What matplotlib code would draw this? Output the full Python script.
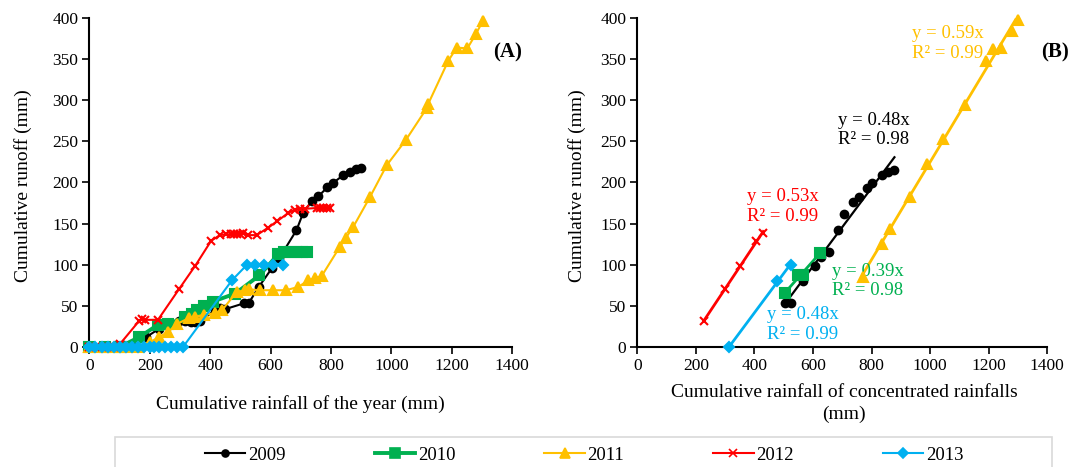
import numpy as np
import matplotlib.pyplot as plt
from matplotlib.patches import Rectangle
from matplotlib.lines import Line2D

plt.rcParams['font.family'] = ['Liberation Serif', 'DejaVu Serif']

# ---- panel A: cumulative rainfall of the year vs cumulative runoff
x09 = [0, 60, 120, 150, 188, 230, 264, 296, 315, 335, 350, 365, 417, 433, 450, 511, 527,
       561, 605, 629, 686, 708, 736, 758, 788, 806, 841, 863, 883, 899]
y09 = [0, 0, 0, 0, 12, 22, 29, 31, 32, 30, 30, 31, 45, 47, 46, 53, 53,
       73, 96, 108, 142, 163, 177, 183, 194, 199, 209, 213, 216, 217]

x10 = [0, 50, 100, 165, 227, 260, 317, 340, 356, 380, 408, 483, 563, 626, 645, 665, 685, 705, 720]
y10 = [0, 0, 0, 12, 27, 28, 36, 40, 45, 50, 55, 65, 87, 113, 116, 116, 116, 116, 116]

x11 = [0, 40, 80, 120, 160, 202, 230, 260, 290, 329, 350, 380, 417, 440, 488, 516, 530,
       565, 607, 651, 692, 725, 747, 769, 830, 850, 874, 929, 985, 1049, 1117, 1123,
       1189, 1217, 1252, 1281, 1303]
y11 = [0, 0, 0, 0, 0, 6, 12, 18, 28, 35, 37, 39, 41, 45, 67, 69, 70,
       69, 69, 69, 73, 81, 84, 86, 122, 133, 146, 182, 221, 252, 290, 296,
       348, 364, 363, 381, 396]

x12 = [0, 40, 80, 102, 163, 174, 185, 227, 298, 351, 403, 432, 453, 470, 480, 490, 500,
       510, 526, 554, 592, 622, 659, 681, 698, 715, 753, 764, 775, 786, 797]
y12 = [0, 0, 0, 4, 31, 34, 33, 33, 71, 99, 129, 136, 137, 137, 137, 137, 137,
       138, 136, 136, 145, 153, 163, 167, 168, 168, 169, 169, 169, 169, 169]

x13 = [0, 20, 40, 60, 80, 100, 120, 140, 160, 180, 200, 215, 230, 250, 270, 290, 310,
       472, 522, 549, 577, 609, 640]
y13 = [0, 0, 0, 0, 0, 0, 0, 0, 0, 0, 0, 0, 0, 0, 0, 0, 0,
       81, 100, 100, 100, 100, 100]

# ---- panel B: concentrated rainfalls
bx09 = [506, 524, 567, 606, 627, 655, 684, 706, 737, 758, 786, 803, 837, 857, 878]
by09 = [54, 54, 80, 98, 110, 115, 142, 162, 176, 182, 193, 199, 209, 213, 215]
bx10 = [505, 550, 565, 623]
by10 = [66, 87, 88, 114]
bx11 = [770, 834, 862, 930, 988, 1044, 1118, 1192, 1215, 1243, 1278, 1300]
by11 = [85, 125, 143, 182, 222, 253, 294, 348, 362, 363, 384, 397]
bx12 = [228, 299, 350, 404, 430]
by12 = [32, 70, 98, 129, 138]
bx13 = [314, 476, 525]
by13 = [0, 80, 100]

years = ['2009', '2010', '2011', '2012', '2013']
eq_text = ['y = 0.48x\nR² = 0.98', 'y = 0.39x\nR² = 0.98', 'y = 0.59x\nR² = 0.99',
           'y = 0.53x\nR² = 0.99', 'y = 0.48x\nR² = 0.99']
eq_pos = [(684, 264), (666, 80), (937, 369), (374, 171), (442, 27)]

colors = ['#000000', '#00B050', '#FFC000', '#FF0000', '#00B0F0']
markers = ['o', 's', '^', 'x', 'D']
msizes = [5.5, 7.5, 7, 6, 5.5]
lws = [1.5, 2.8, 1.5, 1.5, 1.5]

fig = plt.figure(figsize=(10.7, 4.67), dpi=100)
axA = fig.add_axes([0.0836, 0.257, 0.3949, 0.7045])
axB = fig.add_axes([0.5956, 0.257, 0.3832, 0.7045])

seriesA = [(x09, y09), (x10, y10), (x11, y11), (x12, y12), (x13, y13)]
seriesB = [(bx09, by09), (bx10, by10), (bx11, by11), (bx12, by12), (bx13, by13)]

for i in range(5):
    xs, ys = seriesA[i]
    axA.plot(xs, ys, color=colors[i], marker=markers[i], ms=msizes[i], lw=lws[i],
             mew=1.5, clip_on=False, zorder=3)

for i in range(5):
    xs, ys = seriesB[i]
    xs = np.array(xs)
    ys = np.array(ys)
    # linear trendline over the data range
    k, b = np.polyfit(xs, ys, 1)
    xx = np.array([xs.min(), xs.max()])
    axB.plot(xx, k * xx + b, color=colors[i], lw=2 if i != 0 else 1.6, zorder=2)
    axB.plot(xs, ys, ls='none', color=colors[i], marker=markers[i], ms=msizes[i],
             mew=1.5, clip_on=False, zorder=3)
    axB.text(eq_pos[i][0], eq_pos[i][1], eq_text[i], color=colors[i], fontsize=13.5,
             ha='left', va='center', linespacing=1.2)

for ax in (axA, axB):
    ax.set_xlim(0, 1400)
    ax.set_ylim(0, 400)
    ax.set_xticks(range(0, 1401, 200))
    ax.set_yticks(range(0, 401, 50))
    for s in ('top', 'right'):
        ax.spines[s].set_visible(False)
    for s in ('left', 'bottom'):
        ax.spines[s].set_linewidth(1.5)
    ax.tick_params(direction='out', length=5, width=1.2, labelsize=12.5, pad=3)
    ax.set_ylabel('Cumulative runoff (mm)', fontsize=14)

axA.set_xlabel('Cumulative rainfall of the year (mm)', fontsize=14)
axB.set_xlabel('Cumulative rainfall of concentrated rainfalls\n(mm)', fontsize=14,
               linespacing=1.35)
axA.xaxis.set_label_coords(0.5, -0.145)
axB.xaxis.set_label_coords(0.505, -0.112)
axA.yaxis.set_label_coords(-0.135, 0.49)
axB.yaxis.set_label_coords(-0.125, 0.49)

fig.text(508 / 1070, 1 - 52 / 467, '(A)', fontsize=15, fontweight='bold', ha='center', va='center')
fig.text(1055 / 1070, 1 - 52 / 467, '(B)', fontsize=15, fontweight='bold', ha='center', va='center')

# legend box
fig.patches.append(Rectangle((115 / 1070, -0.05), (1052 - 115) / 1070, 0.05 + (467 - 437) / 467,
                             transform=fig.transFigure, fill=False, ec='#d9d9d9', lw=1.2))
handles = [Line2D([], [], color=colors[i], marker=markers[i], lw=lws[i],
                  ms=msizes[i] - 0.5, mew=1.2) for i in range(5)]
fig.legend(handles, years, loc='center left', bbox_to_anchor=(205 / 1070, 1 - 455 / 467),
           ncol=5, frameon=False, fontsize=13.5, handlelength=2.15, handletextpad=0.15,
           columnspacing=4.75, borderpad=0, borderaxespad=0)

fig.savefig('out.png', dpi=100)
